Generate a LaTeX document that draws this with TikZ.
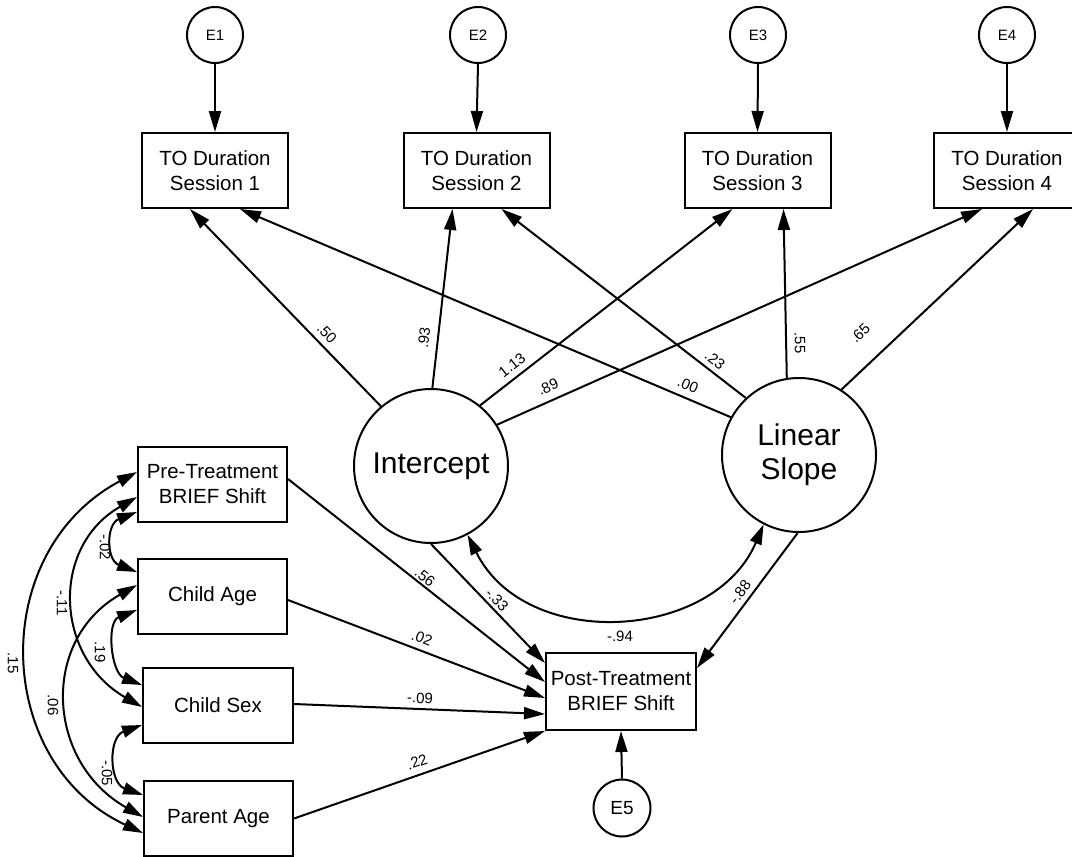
\documentclass[tikz,border=0pt]{standalone}
\usepackage{fontspec}
\setmainfont{Liberation Sans}
\usetikzlibrary{arrows.meta}
\begin{document}
\begin{tikzpicture}[x=1pt,y=-1pt,
  every node/.style={inner sep=0pt},
  obs/.style={draw, line width=2pt, fill=white, minimum width=146pt, minimum height=75pt,
    align=center, font=\fontsize{20.5}{25}\selectfont},
  lat/.style={draw, circle, line width=2pt, fill=white, minimum size=154pt,
    align=center, font=\fontsize{30}{34}\selectfont},
  err/.style={draw, circle, line width=2pt, fill=white, minimum size=56pt,
    font=\fontsize{15}{18}\selectfont},
  reg/.style={line width=2pt, -{Triangle[length=21pt,width=12pt]}},
  cov/.style={line width=2pt, {Triangle[length=20pt,width=12pt]}-{Triangle[length=20pt,width=12pt]}},
  coef/.style={font=\fontsize{15}{18}\selectfont}
]
\useasboundingbox[fill=white] (0,0) rectangle (1072,857);

% error terms of the repeated measures
\node[err] (e1) at (215,35) {E1};
\node[err] (e2) at (478,35) {E2};
\node[err] (e3) at (758,35) {E3};
\node[err] (e4) at (1007,35) {E4};

% repeated measures
\node[obs] (s1) at (215,170.5) {TO Duration\\Session 1};
\node[obs] (s2) at (476.5,170.5) {TO Duration\\Session 2};
\node[obs] (s3) at (757.5,170.5) {TO Duration\\Session 3};
\node[obs] (s4) at (1007,170.5) {TO Duration\\Session 4};

% growth factors
\node[lat] (ic) at (431,466) {Intercept};
\node[lat] (ls) at (799,455) {Linear\\Slope};

% covariates
\node[obs, minimum width=149pt] (pre) at (212.5,484.5) {Pre-Treatment\\BRIEF Shift};
\node[obs, minimum width=149pt] (cage) at (212.5,596.5) {Child Age};
\node[obs, minimum width=150pt] (csex) at (218,705.5) {Child Sex};
\node[obs, minimum width=149pt] (page) at (218.5,818.5) {Parent Age};

% outcome
\node[obs, minimum width=150pt, minimum height=77pt] (post) at (621,691.5) {Post-Treatment\\BRIEF Shift};
\node[err, minimum size=57pt, font=\fontsize{19}{22}\selectfont] (e5) at (622,808) {E5};

% residual paths
\draw[reg] (e1.south) -- (s1.north);
\draw[reg] (e2.south) -- (s2.north);
\draw[reg] (e3.south) -- (s3.north);
\draw[reg] (e4.south) -- (s4.north);
\draw[reg] (e5.north) -- (post.south);

% loadings
\draw[reg] (ic.130) -- ([xshift=-25pt]s1.south);
\draw[reg] (ic.89) -- ([xshift=-24pt]s2.south);
\draw[reg] (ic.51) -- ([xshift=-25pt]s3.south);
\draw[reg] (ic.32) -- ([xshift=-25pt]s4.south);
\draw[reg] (ls.151) -- ([xshift=25pt]s1.south);
\draw[reg] (ls.133) -- ([xshift=25pt]s2.south);
\draw[reg] (ls.99) -- ([xshift=26pt]s3.south);
\draw[reg] (ls.57) -- ([xshift=26pt]s4.south);

% predictors of the outcome
\draw[reg] ([yshift=5.5pt]pre.east) -- ([yshift=9.5pt]post.west);
\draw[reg] (ic.-90) -- ([yshift=28.5pt]post.west);
\draw[reg] ([yshift=-3.5pt]cage.east) -- ([yshift=-6.5pt]post.west);
\draw[reg] ([yshift=1.5pt]csex.east) -- ([yshift=-22.5pt]post.west);
\draw[reg] (page.east) -- (post.south west);
\draw[reg] (ls.-91) -- ([yshift=23.5pt]post.east);

% covariances
\draw[cov] (ic.-62) .. controls +(58,117) and +(-50,117) .. (ls.-117);
\draw[cov] ([yshift=12.5pt]pre.west) .. controls +(-150,80) and +(-150,-70) .. ([yshift=-14.5pt]page.west);
\draw[cov] ([yshift=-12.5pt]pre.west) .. controls +(-87,50) and +(-87,-50) .. ([yshift=-1.5pt]csex.west);
\draw[cov] ([yshift=-27.5pt]pre.west) .. controls +(-31,12) and +(-31,-12) .. ([yshift=24.5pt]cage.west);
\draw[cov] ([yshift=11.5pt]cage.west) .. controls +(-97,55) and +(-97,-55) .. ([yshift=1.5pt]page.west);
\draw[cov] ([yshift=-13.5pt]cage.west) .. controls +(-31,12) and +(-31,-12) .. ([yshift=20.5pt]csex.west);
\draw[cov] ([yshift=-19.5pt]csex.west) .. controls +(-34,12) and +(-34,-12) .. ([yshift=23.5pt]page.west);

% estimates
\node[coef, rotate=-46] (k50) at (327,333) {.50};
\node[coef, rotate=83] (k93) at (424,338) {.93};
\node[coef, rotate=38] (k113) at (512,365) {1.13};
\node[coef, rotate=24] (k89) at (548,387) {.89};
\node[coef, rotate=-23] (k00) at (688,385) {.00};
\node[coef, rotate=-38] (k23) at (715,360) {.23};
\node[coef, rotate=-89] (k55) at (800,343) {.55};
\node[coef, rotate=44] (k65) at (860,333) {.65};
\node[coef, rotate=53] (k88) at (740,592) {-.88};
\node[coef] (k94) at (620,636) {-.94};
\node[coef, rotate=-38] (k56) at (425,577) {.56};
\node[coef, rotate=-46] (k33) at (497,600) {-.33};
\node[coef, rotate=-21] (k02) at (422,638) {.02};
\node[coef, rotate=-2] (k09) at (420,698) {-.09};
\node[coef, rotate=19] (k22) at (417,762) {.22};
\node[coef, rotate=-90] (c02) at (105,547) {-.02};
\node[coef, rotate=-90] (c11) at (62,603) {-.11};
\node[coef, rotate=-90] (c15) at (13,663) {.15};
\node[coef, rotate=-90] (c19) at (100,652) {.19};
\node[coef, rotate=-90] (c06) at (53,705) {.06};
\node[coef, rotate=-90] (c05) at (107,773) {-.05};
\end{tikzpicture}
\end{document}
